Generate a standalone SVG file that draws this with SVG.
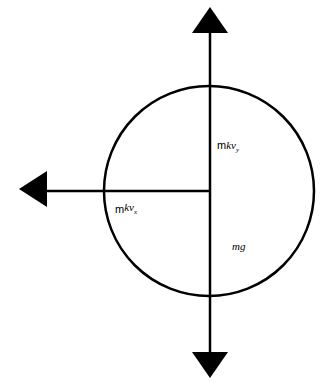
<svg xmlns="http://www.w3.org/2000/svg" width="324" height="386" viewBox="0 0 324 386">
<style>
.ln{stroke:#000;stroke-width:2.5;fill:none}
.hd{fill:#000}
.s{font-family:"Liberation Sans",Arial,sans-serif;font-size:11px;fill:#000}
.i{font-family:"Liberation Serif","Times New Roman",serif;font-style:italic;font-size:11px;fill:#000}
.sub{font-family:"Liberation Serif","Times New Roman",serif;font-style:italic;font-size:7px;fill:#000}
</style>
<rect width="324" height="386" fill="#fff"/>
<g id="ball">
<circle cx="209" cy="191" r="105" class="ln"/>
</g>
<g id="connectors">
<line x1="210" y1="30" x2="210" y2="355" class="ln"/>
<line x1="45" y1="191" x2="210" y2="191" class="ln"/>
<polygon class="hd" points="210,7 192,33 228,33"/>
<polygon class="hd" points="210,378 192,352 228,352"/>
<polygon class="hd" points="19,189 47,171 47,207"/>
</g>
<g id="label-mkvy">
<text x="217" y="149"><tspan class="s">m</tspan><tspan class="i">kv</tspan><tspan class="sub" dy="3">y</tspan></text>
</g>
<g id="label-mkvx">
<text x="115" y="213"><tspan class="s">m</tspan><tspan class="i" dy="-2">kv</tspan><tspan class="sub" dy="3">x</tspan></text>
</g>
<g id="label-mg">
<text x="232" y="250" class="i">mg</text>
</g>
</svg>
